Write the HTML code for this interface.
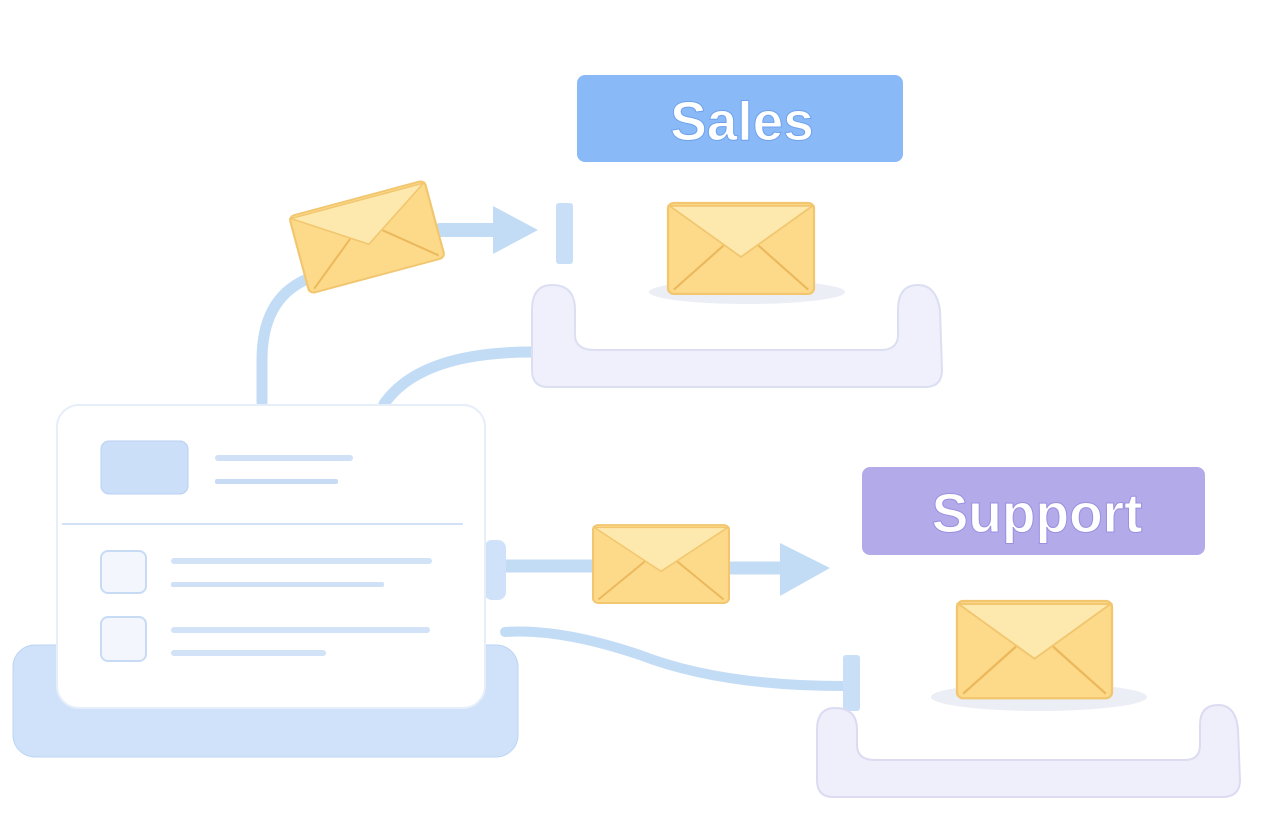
<!DOCTYPE html>
<html><head><meta charset="utf-8"><style>html,body{margin:0;padding:0;background:#fff}svg{display:block}</style></head>
<body>
<svg width="1280" height="830" viewBox="0 0 1280 830" xmlns="http://www.w3.org/2000/svg">
<defs>
<g id="env">
<rect x="0" y="0" width="100" height="64" rx="4" fill="#fdd98a" stroke="#f1c66e" stroke-width="1.5"/>
<path d="M1,2 L50,38 L99,2 Z" fill="#fde9ae" stroke="#f1c66e" stroke-width="1.2"/>
<path d="M4,61 L38,30 M96,61 L62,30" stroke="#ebb85c" stroke-width="1.5" fill="none"/>
</g>
</defs>
<g fill="none" stroke="#c3dcf6" stroke-linecap="round">
<path d="M262,402 L262,360 Q262,300 305,280" stroke-width="11"/>
<path d="M384,404 Q420,352 532,352" stroke-width="11"/>
<path d="M440,230 L500,230" stroke-width="14"/>
<path d="M505,566 L600,566" stroke-width="13"/>
<path d="M725,568 L785,568" stroke-width="13"/>
<path d="M505,632 Q560,628 640,655 Q720,686 843,686" stroke-width="10"/>
</g>
<polygon points="493,206 538,230 493,254" fill="#c3dcf6"/>
<polygon points="780,543 830,568 780,596" fill="#c3dcf6"/>
<rect x="556" y="203" width="17" height="61" rx="3" fill="#c8dff7"/>
<rect x="843" y="655" width="17" height="56" rx="3" fill="#c8dff7"/>
<rect x="13" y="645" width="505" height="112" rx="22" fill="#cfe2fa" stroke="#bcd5f4"/>
<rect x="484" y="540" width="22" height="60" rx="8" fill="#cfe2fa"/>
<rect x="57" y="405" width="428" height="303" rx="22" fill="#ffffff" stroke="#e6eef9" stroke-width="2"/>
<rect x="101" y="441" width="87" height="53" rx="8" fill="#cbdff9" stroke="#b8d1f2"/>
<rect x="215" y="455" width="138" height="6" rx="3" fill="#cfe0f7"/>
<rect x="215" y="479" width="123" height="5" rx="2" fill="#c8dbf5"/>
<line x1="62" y1="524" x2="463" y2="524" stroke="#d2e1f5" stroke-width="2"/>
<rect x="101" y="551" width="45" height="42" rx="7" fill="#f3f7fd" stroke="#c8dbf5" stroke-width="2"/>
<rect x="101" y="617" width="45" height="44" rx="7" fill="#f3f7fd" stroke="#c8dbf5" stroke-width="2"/>
<rect x="171" y="558" width="261" height="6" rx="3" fill="#d2e2f7"/>
<rect x="171" y="582" width="213" height="5" rx="2" fill="#cfe0f7"/>
<rect x="171" y="627" width="259" height="6" rx="3" fill="#d2e2f7"/>
<rect x="171" y="650" width="155" height="6" rx="3" fill="#d2e2f7"/>
<rect x="577" y="75" width="326" height="87" rx="8" fill="#8ab9f8"/>
<text x="742" y="140" text-anchor="middle" font-family="Liberation Sans, sans-serif" font-weight="bold" font-size="55" fill="#fff" stroke="#6fa2ee" stroke-width="1">Sales</text>
<path d="M532,310 Q532,285 552,285 Q575,285 575,310 L575,335 Q575,350 595,350 L880,350 Q898,350 898,335 L898,310 Q898,285 918,285 Q936,285 940,310 L942,370 Q942,387 925,387 L548,387 Q532,387 532,370 Z" fill="#eff0fb" stroke="#dcdff2" stroke-width="2"/>
<ellipse cx="747" cy="292" rx="98" ry="12" fill="#eceef6"/>
<use href="#env" transform="translate(668,203) scale(1.46,1.42)"/>
<use href="#env" transform="translate(367,237) rotate(-15) translate(-70,-40) scale(1.4,1.25)"/>
<rect x="862" y="467" width="343" height="88" rx="8" fill="#b3aaea"/>
<text x="1037" y="532" text-anchor="middle" font-family="Liberation Sans, sans-serif" font-weight="bold" font-size="55" fill="#fff" stroke="#9b8fe0" stroke-width="1">Support</text>
<path d="M817,730 Q817,708 835,708 Q857,708 857,730 L857,745 Q857,760 875,760 L1185,760 Q1200,760 1200,745 L1200,725 Q1200,705 1218,705 Q1236,705 1238,730 L1240,780 Q1240,797 1222,797 L833,797 Q817,797 817,780 Z" fill="#efeffb" stroke="#dcdbf2" stroke-width="2"/>
<ellipse cx="1039" cy="697" rx="108" ry="14" fill="#eceef6"/>
<use href="#env" transform="translate(957,601) scale(1.55,1.52)"/>
<use href="#env" transform="translate(593,525) scale(1.36,1.22)"/>
</svg>
</body></html>
